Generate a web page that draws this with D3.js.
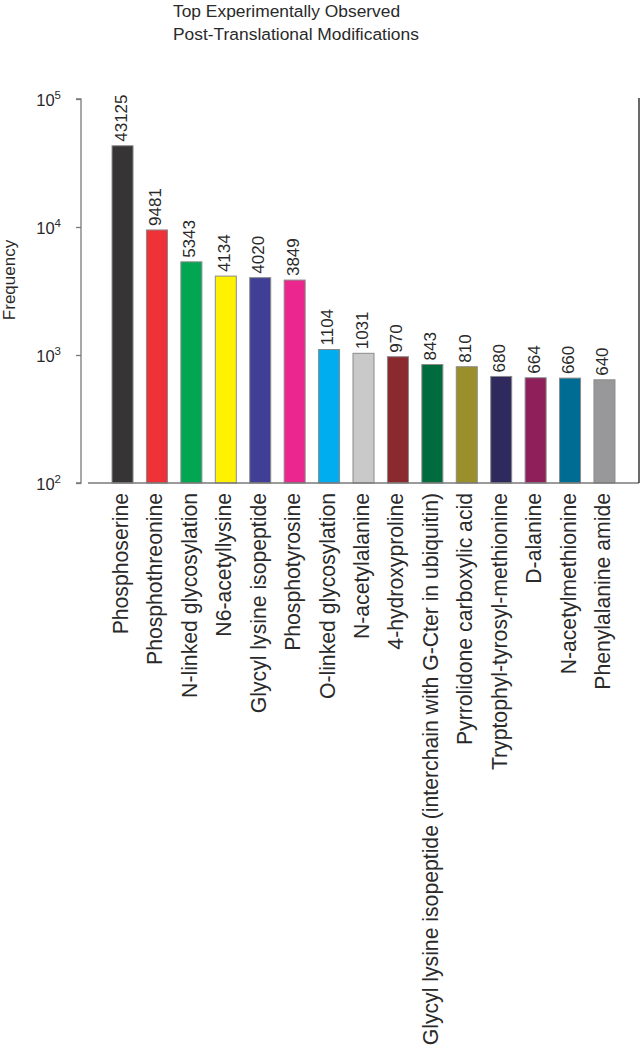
<!DOCTYPE html>
<html>
<head>
<meta charset="utf-8">
<script src="https://cdn.jsdelivr.net/npm/d3@7"></script>
<style>
  html, body { margin: 0; padding: 0; background: #fff; }
  svg { display: block; font-family: "Liberation Sans", Arial, sans-serif; }
</style>
</head>
<body>
<svg id="chart" width="641" height="1050"></svg>
<script>
const categories = [
  "Phosphoserine",
  "Phosphothreonine",
  "N-linked glycosylation",
  "N6-acetyllysine",
  "Glycyl lysine isopeptide",
  "Phosphotyrosine",
  "O-linked glycosylation",
  "N-acetylalanine",
  "4-hydroxyproline",
  "Glycyl lysine isopeptide (interchain with G-Cter in ubiquitin)",
  "Pyrrolidone carboxylic acid",
  "Tryptophyl-tyrosyl-methionine",
  "D-alanine",
  "N-acetylmethionine",
  "Phenylalanine amide"
];
const frequencies = [43125, 9481, 5343, 4134, 4020, 3849, 1104, 1031, 970, 843, 810, 680, 664, 660, 640];
const barColors = ["#363435", "#ee3237", "#00a651", "#fff200", "#3f3f95", "#ec268f", "#00aeef",
  "#c9c9c9", "#8b2a2e", "#006b3c", "#9a8f2a", "#2e2a5e", "#8e1f5a", "#006c93", "#98989a"];
const tickExponents = [2, 3, 4, 5];
const titleLines = ["Top Experimentally Observed", "Post-Translational Modifications"];
const yLabel = "Frequency";

const svg = d3.select("#chart");
const textColor = "#2a2a2a";
const axisColor = "#7a7a7a";

const yTop = 99, yBottom = 483;
const y = d3.scaleLog().domain([100, 100000]).range([yBottom, yTop]);

const step = 34.36;
const x = d3.scaleBand()
  .domain(categories)
  .range([112 - 0.5 * step, 615 + 0.5 * step])
  .paddingInner(0.39)
  .paddingOuter(0.5);

// Title
svg.append("g").selectAll("text").data(titleLines).join("text")
  .attr("x", 173)
  .attr("y", (d, i) => 17.3 + i * 22.2)
  .attr("font-size", 17.4)
  .attr("fill", textColor)
  .text(d => d);

// Y axis
const yAxis = d3.axisLeft(y)
  .tickValues(tickExponents.map(e => Math.pow(10, e)))
  .tickSize(5)
  .tickFormat("");
const gy = svg.append("g").attr("transform", "translate(81,0)").call(yAxis);
gy.select(".domain").attr("stroke", axisColor).attr("stroke-width", 1.3).attr("d", `M-5,${yTop}H0V${yBottom}H-5`);
gy.selectAll(".tick line").attr("stroke", axisColor).attr("stroke-width", 1.3);

// tick labels with superscript
const tl = svg.append("g").selectAll("text").data(tickExponents).join("text")
  .attr("x", 61)
  .attr("y", e => y(Math.pow(10, e)) + 6.5)
  .attr("text-anchor", "end")
  .attr("fill", textColor)
  .attr("font-size", 16.5);
tl.append("tspan").text("10");
tl.append("tspan").attr("font-size", 11.5).attr("dy", -7).text(e => e);

// Y label
svg.append("text")
  .attr("transform", "translate(15,280) rotate(-90)")
  .attr("text-anchor", "middle")
  .attr("font-size", 17)
  .attr("fill", textColor)
  .text(yLabel);

// Bars
const data = categories.map((c, i) => ({c, v: frequencies[i], color: barColors[i]}));
svg.append("g").selectAll("rect").data(data).join("rect")
  .attr("x", d => x(d.c))
  .attr("width", x.bandwidth())
  .attr("y", d => y(d.v))
  .attr("height", d => yBottom - y(d.v))
  .attr("fill", d => d.color)
  .attr("stroke", "#8a8a8a")
  .attr("stroke-width", 1);

// Baseline
svg.append("line")
  .attr("x1", 88).attr("x2", 639)
  .attr("y1", yBottom).attr("y2", yBottom)
  .attr("stroke", axisColor).attr("stroke-width", 1.3);

// Right border
svg.append("line")
  .attr("x1", 639).attr("x2", 639)
  .attr("y1", 98).attr("y2", yBottom)
  .attr("stroke", "#444").attr("stroke-width", 1.6);

// Value labels
svg.append("g").selectAll("text").data(data).join("text")
  .attr("transform", d => `translate(${x(d.c) + x.bandwidth() / 2 + 4},${y(d.v) - 4}) rotate(-90)`)
  .attr("font-size", 17)
  .attr("fill", textColor)
  .text(d => d.v);

// Category labels
svg.append("g").selectAll("text").data(data).join("text")
  .attr("transform", d => `translate(${x(d.c) + x.bandwidth() / 2 + 5.5},493) rotate(-90)`)
  .attr("text-anchor", "end")
  .attr("font-size", 21.2)
  .attr("fill", textColor)
  .text(d => d.c);
</script>
</body>
</html>
